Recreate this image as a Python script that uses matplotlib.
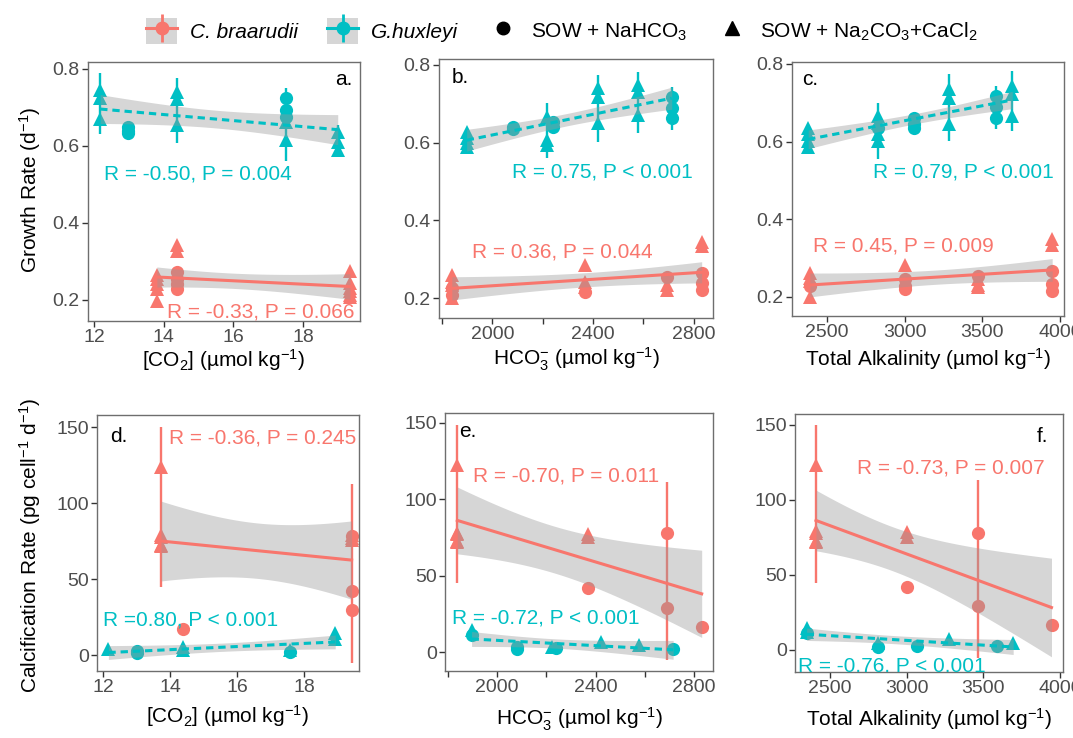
"""
Growth and calcification rate of C. braarudii and G. huxleyi against
[CO2], HCO3- and total alkalinity, with linear fits and 95% bands.
"""

import matplotlib

matplotlib.use("Agg")
import matplotlib.pyplot as plt
import numpy as np
from matplotlib.legend_handler import HandlerTuple
from matplotlib.lines import Line2D
from matplotlib.patches import Patch

RED = "#F8766D"
TEAL = "#00BFC4"

# ---------------------------------------------------------------- data
# marker strings: "^" = SOW + Na2CO3+CaCl2, "o" = SOW + NaHCO3

# a. growth vs CO2
A_CB_X = [13.8] * 5 + [14.37] * 6 + [19.35] * 6
A_CB_Y = [0.265, 0.255, 0.24, 0.228, 0.197,
          0.343, 0.327, 0.272, 0.255, 0.24, 0.228,
          0.275, 0.245, 0.232, 0.222, 0.213, 0.208]
A_CB_M = "^^^^^" + "^^oooo" + "^^^^^^"
A_GH_X = [12.17] * 3 + [12.97] * 3 + [14.37] * 3 + [17.5] * 5 + [19.0] * 3
A_GH_Y = [0.745, 0.725, 0.67, 0.648, 0.64, 0.633, 0.74, 0.722, 0.655,
          0.724, 0.694, 0.676, 0.663, 0.615, 0.637, 0.611, 0.59]
A_GH_M = "^^^" + "ooo" + "^^^" + "ooo^^" + "^^^"
A_GH_ERR_X = [12.17, 14.37, 17.5, 19.0]
A_GH_ERR_LO = [0.63, 0.608, 0.56, 0.57]
A_GH_ERR_HI = [0.79, 0.777, 0.75, 0.655]

# b. growth vs HCO3-
B_CB_X = [1839] * 6 + [2369] * 4 + [2695] * 3 + [2832] * 5
B_CB_Y = [0.259, 0.242, 0.234, 0.2, 0.226, 0.208, 0.285, 0.242, 0.229, 0.216,
          0.234, 0.221, 0.255, 0.345, 0.335, 0.265, 0.238, 0.221]
B_CB_M = "^^^^oo" + "^^^o" + "^^o" + "^^ooo"
B_GH_X = [1898] * 4 + [2084] * 2 + [2216] * 3 + [2241] * 2 + [2420] * 3 + [2580] * 3 + [2713] * 3
B_GH_Y = [0.628, 0.611, 0.6, 0.588, 0.64, 0.635, 0.667, 0.607, 0.594, 0.654, 0.64,
          0.74, 0.718, 0.65, 0.749, 0.731, 0.671, 0.718, 0.689, 0.663]
B_GH_M = "^^^^" + "oo" + "^^^" + "oo" + "^^^" + "^^^" + "ooo"
B_GH_ERR_X = [2216, 2420, 2580, 2713]
B_GH_ERR_LO = [0.56, 0.602, 0.625, 0.633]
B_GH_ERR_HI = [0.702, 0.774, 0.782, 0.743]

# c. growth vs total alkalinity
C_CB_X = [2391] * 5 + [3000] * 4 + [3470] * 4 + [3950] * 5
C_CB_Y = [0.262, 0.25, 0.24, 0.2, 0.229, 0.283, 0.246, 0.229, 0.22,
          0.245, 0.232, 0.225, 0.254, 0.35, 0.335, 0.268, 0.233, 0.216]
C_CB_M = "^^^^o" + "^ooo" + "^^^o" + "^^ooo"
C_GH_X = [2380] * 4 + [2829] * 5 + [3064] * 3 + [3288] * 3 + [3588] * 3 + [3693] * 3
C_GH_Y = [0.636, 0.619, 0.602, 0.585, 0.666, 0.649, 0.619, 0.602, 0.636,
          0.662, 0.645, 0.636, 0.735, 0.713, 0.645, 0.718, 0.688, 0.662,
          0.743, 0.722, 0.666]
C_GH_M = "^^^^" + "^^^^o" + "ooo" + "^^^" + "ooo" + "^^^"
C_GH_ERR_X = [2829, 3288, 3588, 3693]
C_GH_ERR_LO = [0.555, 0.602, 0.633, 0.627]
C_GH_ERR_HI = [0.70, 0.774, 0.743, 0.782]

# d. calcification vs CO2 (stacked triangles hide a few replicates)
D_CB_X = [13.73] * 5 + [14.38] + [19.42] * 6
D_CB_Y = [123.9, 79.0, 78.0, 72.5, 72.0, 16.9, 78.9, 77.0, 75.7, 78.2, 42.1, 29.6]
D_CB_M = "^^^^^" + "o" + "^^^ooo"
D_CB_ERR_X = [13.73, 19.42]
D_CB_ERR_LO = [44.9, -5.5]
D_CB_ERR_HI = [150.2, 112.9]
D_GH_X = [12.16, 13.0, 13.0, 14.4, 14.4, 17.58, 17.58, 18.93, 18.93]
D_GH_Y = [3.7, 2.8, 1.5, 5.1, 3.5, 2.2, 3.0, 14.2, 10.3]
D_GH_M = "^oo^^o^^^"

# e. calcification vs HCO3-
E_CB_X = [1838] * 5 + [2370] * 3 + [2691] * 2 + [2831]
E_CB_Y = [122.5, 78.0, 77.5, 72.5, 72.0, 77.0, 75.5, 41.7, 78.2, 28.6, 16.6]
E_CB_M = "^^^^^" + "^^o" + "oo" + "o"
E_CB_ERR_X = [1838, 2691]
E_CB_ERR_LO = [45.0, -5.2]
E_CB_ERR_HI = [148.8, 111.6]
E_GH_X = [1896, 1896, 2082, 2082, 2222, 2238, 2421, 2578, 2715]
E_GH_Y = [14.4, 11.1, 3.5, 1.8, 3.5, 2.7, 6.8, 4.6, 2.1]
E_GH_M = "^ooo^o^^o"

# f. calcification vs total alkalinity
F_CB_X = [2409] * 5 + [3000] * 3 + [3467] * 2 + [3945]
F_CB_Y = [123.3, 79.0, 78.0, 72.5, 72.0, 78.9, 75.0, 41.8, 78.2, 29.3, 16.7]
F_CB_M = "^^^^^" + "^^o" + "oo" + "o"
F_CB_ERR_X = [2409, 3467]
F_CB_ERR_LO = [44.9, -5.6]
F_CB_ERR_HI = [150.0, 113.3]
F_GH_X = [2348, 2348, 2348, 2815, 2815, 3066, 3278, 3587, 3695]
F_GH_Y = [14.4, 12.2, 11.1, 4.4, 2.2, 2.7, 7.1, 2.7, 4.9]
F_GH_M = "^^o^oo^o^"

# annotation texts (C. braarudii first, G. huxleyi second)
A_TXT = ["R = -0.33, P = 0.066", "R = -0.50, P = 0.004"]
B_TXT = ["R = 0.36, P = 0.044", "R = 0.75, P < 0.001"]
C_TXT = ["R = 0.45, P = 0.009", "R = 0.79, P < 0.001"]
D_TXT = ["R = -0.36, P = 0.245", "R =0.80, P < 0.001"]
E_TXT = ["R = -0.70, P = 0.011", "R = -0.72, P < 0.001"]
F_TXT = ["R = -0.73, P = 0.007", "R = -0.76, P < 0.001"]

CO2_TICKS = [12, 14, 16, 18]
HCO3_TICKS = [1800, 2000, 2200, 2400, 2600, 2800]
HCO3_LABELS = ["", "2000", "", "2400", "", "2800"]
TA_TICKS = [2500, 3000, 3500, 4000]
GROWTH_TICKS = [0.2, 0.4, 0.6, 0.8]
CALC_TICKS = [0, 50, 100, 150]

# ---------------------------------------------------------------- style
plt.rcParams["font.family"] = ["Liberation Sans", "DejaVu Sans"]
plt.rcParams["mathtext.fontset"] = "custom"
plt.rcParams["mathtext.rm"] = "Liberation Sans"
plt.rcParams["mathtext.it"] = "Liberation Sans:italic"
plt.rcParams["mathtext.bf"] = "Liberation Sans:bold"
plt.rcParams["mathtext.sf"] = "Liberation Sans"

W, H = 1073, 738


def fx(px):
    return px / W


def fy(py):
    return 1 - py / H


def box(left, top, right, bottom):
    return [fx(left), fy(bottom), (right - left) / W, (bottom - top) / H]


def t975(df):
    """Cornish-Fisher approximation of the 97.5% Student t quantile."""
    z = 1.959964
    g1 = (z**3 + z) / 4
    g2 = (5 * z**5 + 16 * z**3 + 3 * z) / 96
    g3 = (3 * z**7 + 19 * z**5 + 17 * z**3 - 15 * z) / 384
    return z + g1 / df + g2 / df**2 + g3 / df**3


def draw_fit(ax, x, y, color, dashed):
    x = np.asarray(x, float)
    y = np.asarray(y, float)
    n = len(x)
    slope, icpt = np.polyfit(x, y, 1)
    xs = np.linspace(x.min(), x.max(), 100)
    yhat = icpt + slope * xs
    resid = y - (icpt + slope * x)
    s = np.sqrt(np.sum(resid**2) / (n - 2))
    sxx = np.sum((x - x.mean()) ** 2)
    se = s * np.sqrt(1 / n + (xs - x.mean()) ** 2 / sxx)
    half = t975(n - 2) * se
    ax.fill_between(xs, yhat - half, yhat + half, color="#999999",
                    alpha=0.4, lw=0, zorder=3)
    ls = (0, (2.4, 1.6)) if dashed else "-"
    ax.plot(xs, yhat, color=color, lw=2.2, ls=ls, zorder=4)


def draw_points(ax, x, y, m, color):
    x = np.asarray(x, float)
    y = np.asarray(y, float)
    m = np.array(list(m))
    for mk, ms in (("o", 9.5), ("^", 10)):
        sel = m == mk
        ax.plot(x[sel], y[sel], ls="none", marker=mk, ms=ms, color=color,
                mew=0, zorder=2)


def draw_err(ax, ex, lo, hi, color):
    ax.vlines(ex, lo, hi, color=color, lw=1.7, zorder=2)


def style_axes(ax, xticks, xlim, yticks, ylim, xlabels=None):
    ax.set_xlim(*xlim)
    ax.set_ylim(*ylim)
    ax.set_xticks(xticks)
    if xlabels is not None:
        ax.set_xticklabels(xlabels)
    ax.set_yticks(yticks)
    if yticks == GROWTH_TICKS:
        ax.set_yticklabels([f"{v:.1f}" for v in yticks])
    ax.tick_params(direction="out", length=4, width=1, color="#333333",
                   labelsize=14, labelcolor="#4D4D4D", pad=2)
    for sp in ax.spines.values():
        sp.set_color("#6E6E6E")
        sp.set_linewidth(1.0)


def label(ax, px, py, s, color, size=15):
    ax.text(fx(px), fy(py), s, transform=fig.transFigure, color=color,
            fontsize=size, ha="left", va="baseline", clip_on=True, zorder=6)


fig = plt.figure(figsize=(W / 100, H / 100), dpi=100)

panels = [
    dict(box=box(88, 62, 360, 321), cb=(A_CB_X, A_CB_Y, A_CB_M),
         gh=(A_GH_X, A_GH_Y, A_GH_M), cb_err=None,
         gh_err=(A_GH_ERR_X, A_GH_ERR_LO, A_GH_ERR_HI),
         xt=CO2_TICKS, xl=None, xlim=(11.82, 19.64),
         yt=GROWTH_TICKS, ylim=(0.145, 0.818), txt=A_TXT,
         txt_pos=[(167, 317), (104, 179)], tag="a.", tag_pos=(335, 85),
         xlab="[CO$_2$] (µmol kg$^{-1}$)", xlab_y=360),
    dict(box=box(439, 59, 713, 318), cb=(B_CB_X, B_CB_Y, B_CB_M),
         gh=(B_GH_X, B_GH_Y, B_GH_M), cb_err=None,
         gh_err=(B_GH_ERR_X, B_GH_ERR_LO, B_GH_ERR_HI),
         xt=HCO3_TICKS, xl=HCO3_LABELS, xlim=(1788, 2877),
         yt=GROWTH_TICKS, ylim=(0.149, 0.815), txt=B_TXT,
         txt_pos=[(472, 257), (512, 177)], tag="b.", tag_pos=(452, 83),
         xlab="HCO$_3^{-}$ (µmol kg$^{-1}$)", xlab_y=359),
    dict(box=box(792, 62, 1064, 316), cb=(C_CB_X, C_CB_Y, C_CB_M),
         gh=(C_GH_X, C_GH_Y, C_GH_M), cb_err=None,
         gh_err=(C_GH_ERR_X, C_GH_ERR_LO, C_GH_ERR_HI),
         xt=TA_TICKS, xl=None, xlim=(2276, 4026),
         yt=GROWTH_TICKS, ylim=(0.151, 0.805), txt=C_TXT,
         txt_pos=[(813, 251), (873, 177)], tag="c.", tag_pos=(802, 85),
         xlab="Total Alkalinity (µmol kg$^{-1}$)", xlab_y=359),
    dict(box=box(97, 415, 359, 671), cb=(D_CB_X, D_CB_Y, D_CB_M),
         gh=(D_GH_X, D_GH_Y, D_GH_M),
         cb_err=(D_CB_ERR_X, D_CB_ERR_LO, D_CB_ERR_HI), gh_err=None,
         xt=CO2_TICKS, xl=None, xlim=(11.82, 19.64),
         yt=CALC_TICKS, ylim=(-10.5, 158), txt=D_TXT,
         txt_pos=[(169, 443), (103, 625)], tag="d.", tag_pos=(110, 442),
         xlab="[CO$_2$] (µmol kg$^{-1}$)", xlab_y=716),
    dict(box=box(445, 413, 713, 671), cb=(E_CB_X, E_CB_Y, E_CB_M),
         gh=(E_GH_X, E_GH_Y, E_GH_M),
         cb_err=(E_CB_ERR_X, E_CB_ERR_LO, E_CB_ERR_HI), gh_err=None,
         xt=HCO3_TICKS, xl=HCO3_LABELS, xlim=(1788, 2877),
         yt=CALC_TICKS, ylim=(-12.4, 156.5), txt=E_TXT,
         txt_pos=[(473, 481), (452, 623)], tag="e.", tag_pos=(459, 437),
         xlab="HCO$_3^{-}$ (µmol kg$^{-1}$)", xlab_y=719),
    dict(box=box(795, 414, 1063, 672), cb=(F_CB_X, F_CB_Y, F_CB_M),
         gh=(F_GH_X, F_GH_Y, F_GH_M),
         cb_err=(F_CB_ERR_X, F_CB_ERR_LO, F_CB_ERR_HI), gh_err=None,
         xt=TA_TICKS, xl=None, xlim=(2272, 4020),
         yt=CALC_TICKS, ylim=(-14.7, 157.3), txt=F_TXT,
         txt_pos=[(857, 473), (798, 672)], tag="f.", tag_pos=(1037, 442),
         xlab="Total Alkalinity (µmol kg$^{-1}$)", xlab_y=719),
]

for p in panels:
    ax = fig.add_axes(p["box"])
    for (x, y, m), err, color, dashed in (
        (p["cb"], p["cb_err"], RED, False),
        (p["gh"], p["gh_err"], TEAL, True),
    ):
        if err is not None:
            draw_err(ax, *err, color)
        draw_points(ax, x, y, m, color)
        draw_fit(ax, x, y, color, dashed)
    style_axes(ax, p["xt"], p["xlim"], p["yt"], p["ylim"], p["xl"])
    label(ax, *p["txt_pos"][0], p["txt"][0], RED)
    label(ax, *p["txt_pos"][1], p["txt"][1], TEAL)
    label(ax, *p["tag_pos"], p["tag"], "black")
    l, b, w, h = p["box"]
    fig.text(l + w / 2, fy(p["xlab_y"]), p["xlab"], ha="center", va="center",
             fontsize=15, color="black")

fig.text(fx(30), fy(190), "Growth Rate (d$^{-1}$)", rotation=90,
         ha="center", va="center", fontsize=15)
fig.text(fx(30), fy(545), "Calcification Rate (pg cell$^{-1}$ d$^{-1}$)",
         rotation=90, ha="center", va="center", fontsize=15)

# legend
key_bg = "#D6D6D6"


def species_key(color):
    return (
        Patch(facecolor=key_bg, edgecolor="none"),
        Line2D([], [], color=color, lw=2.2),
        Line2D([], [], color=color, marker="|", ms=20, mew=2, ls="none"),
        Line2D([], [], color=color, marker="o", ms=9, ls="none"),
    )


handles = [
    species_key(RED),
    species_key(TEAL),
    Line2D([], [], color="black", marker="o", ms=9, ls="none"),
    Line2D([], [], color="black", marker="^", ms=10, ls="none"),
]
labels = ["C. braarudii", "G.huxleyi", "SOW + NaHCO$_3$",
          "SOW + Na$_2$CO$_3$+CaCl$_2$"]
leg = fig.legend(handles, labels, loc="center", bbox_to_anchor=(fx(562), fy(31)),
                 ncol=4, frameon=False, fontsize=15, handlelength=1.5,
                 handleheight=1.5, handletextpad=0.6, columnspacing=1.4,
                 handler_map={tuple: HandlerTuple(ndivide=1)})
for t in leg.get_texts()[:2]:
    t.set_fontstyle("italic")

fig.savefig("out.png", dpi=100)
